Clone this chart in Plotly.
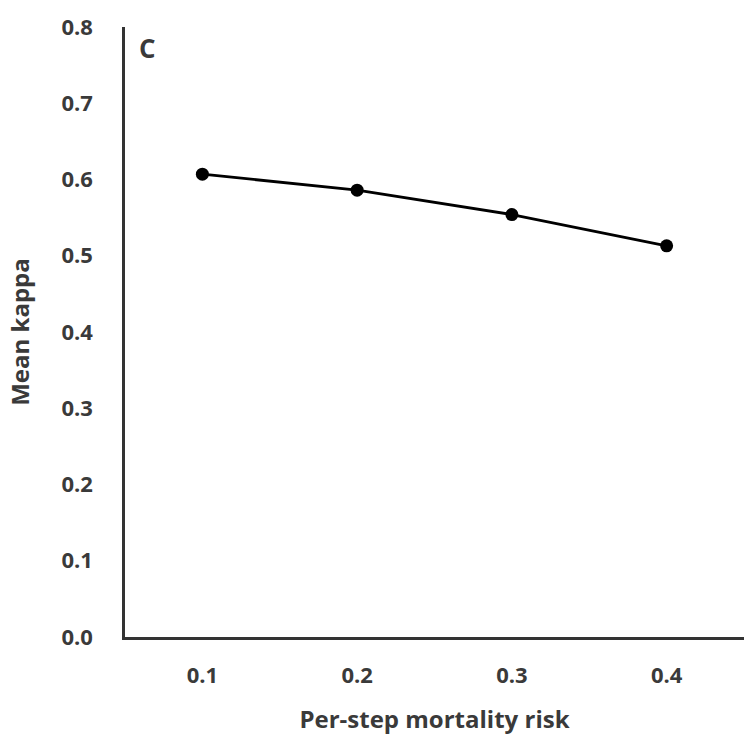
import plotly.graph_objects as go

# Mean kappa by per-step mortality risk
mortality_risk = ["0.1", "0.2", "0.3", "0.4"]
mean_kappa = [0.607, 0.586, 0.554, 0.513]
y_ticks = [0.0, 0.1, 0.2, 0.3, 0.4, 0.5, 0.6, 0.7, 0.8]
y_tick_labels = ["0.0", "0.1", "0.2", "0.3", "0.4", "0.5", "0.6", "0.7", "0.8"]
panel_label = "C"

TEXT = "#3a3a3a"
FONT = "Open Sans"

fig = go.Figure(
    go.Scatter(
        x=mortality_risk,
        y=mean_kappa,
        mode="lines+markers",
        line=dict(color="black", width=2.8),
        marker=dict(color="black", size=13),
        showlegend=False,
    )
)

fig.update_layout(
    width=744,
    height=738,
    margin=dict(l=125, r=0, t=27, b=101),
    paper_bgcolor="white",
    plot_bgcolor="white",
    font=dict(family=FONT, color=TEXT, size=22),
)

fig.update_xaxes(
    type="category",
    range=[-0.5, 3.5],
    showgrid=False,
    zeroline=False,
    showline=True,
    linecolor="#333333",
    linewidth=2.5,
    ticks="",
    ticklabelstandoff=17,
    tickfont=dict(family=FONT, size=22, color=TEXT, weight="bold"),
    title=dict(
        text="Per-step mortality risk",
        font=dict(family=FONT, size=24, color=TEXT, weight="bold"),
        standoff=24,
    ),
)

fig.update_yaxes(
    range=[0, 0.8],
    tickvals=y_ticks,
    ticktext=y_tick_labels,
    showgrid=False,
    zeroline=False,
    showline=True,
    linecolor="#333333",
    linewidth=2.5,
    ticks="",
    ticklabelstandoff=25,
    tickfont=dict(family=FONT, size=22, color=TEXT, weight="bold"),
    title=dict(
        text="Mean kappa",
        font=dict(family=FONT, size=24, color=TEXT, weight="bold"),
        standoff=26,
    ),
)

fig.add_annotation(
    text=panel_label,
    xref="paper",
    yref="paper",
    x=0.037,
    y=0.965,
    xanchor="center",
    yanchor="middle",
    showarrow=False,
    font=dict(family=FONT, size=26, color=TEXT, weight="bold"),
)

fig.write_html("out.html")
